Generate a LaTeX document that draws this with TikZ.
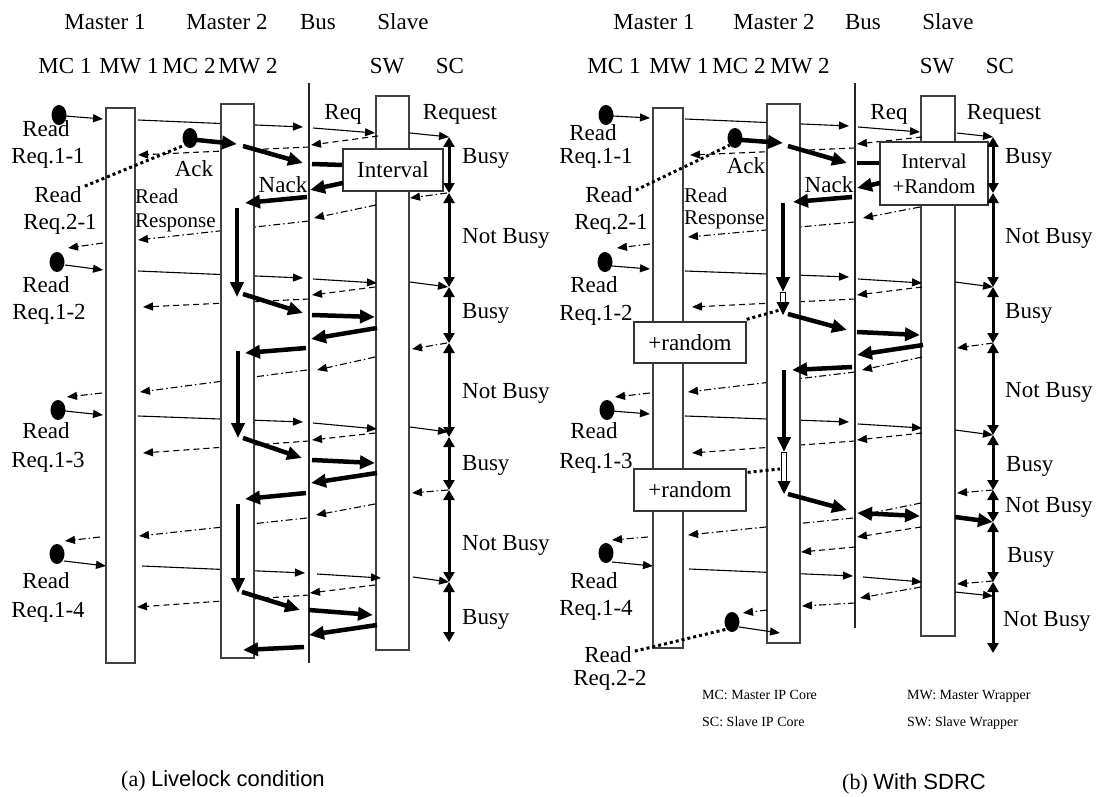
\documentclass[tikz,border=0pt]{standalone}
\usepackage{fontspec}
\setmainfont{Liberation Serif}
\newfontfamily\arialfont{Liberation Sans}
\usetikzlibrary{arrows.meta,shapes.geometric}
\begin{document}
\begin{tikzpicture}[x=1pt,y=-1pt,
  every node/.style={inner sep=0pt},
  txt/.style={anchor=base,font=\fontsize{23}{28}\selectfont},
  stxt/.style={anchor=base west,font=\fontsize{21}{25}\selectfont},
  ltxt/.style={anchor=base west,font=\fontsize{14}{17}\selectfont},
  capt/.style={anchor=base,font=\fontsize{22}{26}\selectfont},
  life/.style={draw=black!75,line width=1.3pt,fill=white},
  busline/.style={line width=1.3pt,draw=black!85},
  tarrow/.style={line width=1.1pt,-{Triangle[length=10pt,width=8pt]}},
  ack/.style={tarrow,dash pattern=on 6pt off 4pt},
  resp/.style={tarrow,dash pattern=on 7pt off 3pt on 1.5pt off 3pt},
  bigarrow/.style={line width=4.5pt,-{Triangle[length=15pt,width=13pt]}},
  bigboth/.style={line width=4.5pt,{Triangle[length=15pt,width=13pt]}-{Triangle[length=15pt,width=13pt]}},
  bigline/.style={line width=4.5pt},
  busy/.style={line width=3pt,{Triangle[length=10pt,width=11pt]}-{Triangle[length=10pt,width=11pt]}},
  dot/.style={ellipse,fill=black,minimum width=15pt,minimum height=20pt},
  dotline/.style={line width=3pt,dash pattern=on 3pt off 3pt},
  box/.style={draw=black!80,line width=1.3pt,fill=white,align=center}
]
\useasboundingbox (0,0) rectangle (1106,797);

% ================= Panel (a) =================
\node[txt] (aM1) at (105,30) {Master 1};
\node[txt] (aM2) at (227,30) {Master 2};
\node[txt] (aBus) at (318,30) {Bus};
\node[txt] (aSl) at (403,30) {Slave};
\node[txt] (aMC1) at (65,74) {MC 1};
\node[txt] (aMW1) at (129,74) {MW 1};
\node[txt] (aMC2) at (189,74) {MC 2};
\node[txt] (aMW2) at (248,74) {MW 2};
\node[txt] (aSW) at (387,74) {SW};
\node[txt] (aSC) at (450,74) {SC};

% through lines (behind lifelines)
\draw[tarrow] (138,120) -- (303,127);
\draw[ack] (309,147) -- (138,155);
\draw[resp] (309,221) -- (138,240);
\draw[tarrow] (138,271) -- (303,278);
\draw[ack] (309,299) -- (143,307);
\draw[resp] (307,370) -- (140,392);
\draw[tarrow] (138,416) -- (303,422);
\draw[ack] (309,441) -- (143,453);
\draw[resp] (307,518) -- (139,536);
\draw[tarrow] (142,566) -- (305,573);
\draw[ack] (309,595) -- (137,607);

% lifelines
\draw[life] (106,108) rectangle (135,663);
\draw[life] (221,104) rectangle (254,658);
\draw[life] (376,96) rectangle (409,650);
\draw[busline] (309,83) -- (309,663);

% dots MC1 / MC2
\node[dot] (ad1) at (59,115) {};
\node[dot] (ad2) at (57,262) {};
\node[dot] (ad3) at (58,410) {};
\node[dot] (ad4) at (57,554) {};
\node[dot] (ae1) at (190,138) {};

% MC1 -> MW1
\draw[tarrow] (65,116) -- (103,119);
\draw[tarrow] (65,265) -- (103,270);
\draw[tarrow] (65,411) -- (103,415);
\draw[tarrow] (64,561) -- (106,566);
% MW1 -> MC1 responses
\draw[resp] (103,243) -- (68,248);
\draw[resp] (102,393) -- (67,397);
\draw[resp] (100,537) -- (65,541);
% bus -> SW
\draw[tarrow] (313,128) -- (375,133);
\draw[tarrow] (313,279) -- (377,283);
\draw[tarrow] (313,423) -- (377,429);
\draw[tarrow] (317,574) -- (381,578);
% SW -> SC
\draw[tarrow] (410,133) -- (449,137);
\draw[tarrow] (410,282) -- (448,287);
\draw[tarrow] (410,427) -- (448,432);
\draw[tarrow] (413,577) -- (449,582);
% SW -> bus ack
\draw[ack] (378,136) -- (311,145);
\draw[ack] (375,287) -- (312,295);
\draw[ack] (375,433) -- (312,440);
\draw[ack] (375,585) -- (310,593);
% SC -> SW response
\draw[resp] (447,193) -- (410,198);
\draw[resp] (447,343) -- (412,349);
\draw[resp] (448,490) -- (412,493);
% SW -> bus response
\draw[resp] (376,205) -- (314,218);
\draw[resp] (375,357) -- (317,370);
\draw[resp] (375,504) -- (316,515);

% Master 2 thick traffic
\draw[bigarrow] (197,140) -- (237,144);
\draw[bigarrow] (243,146) -- (303,163);
\draw[bigline] (312,164) -- (343,165);
\node[box,minimum width=100pt,minimum height=42pt,font=\fontsize{23}{28}\selectfont] (aInt) at (393,170) {Interval};
\draw[bigarrow] (343,183) -- (310,190);
\draw[bigarrow] (307,197) -- (245,203);
\draw[bigarrow] (237,208) -- (237,297);

\draw[bigarrow] (243,294) -- (303,313);
\draw[bigarrow] (312,315) -- (375,317);
\draw[bigarrow] (377,328) -- (311,339);
\draw[bigarrow] (306,348) -- (245,353);
\draw[bigarrow] (238,351) -- (238,438);

\draw[bigarrow] (243,438) -- (302,458);
\draw[bigarrow] (312,460) -- (375,463);
\draw[bigarrow] (377,473) -- (311,483);
\draw[bigarrow] (306,493) -- (245,499);
\draw[bigarrow] (238,504) -- (238,593);

\draw[bigarrow] (242,592) -- (300,610);
\draw[bigarrow] (309,610) -- (373,615);
\draw[bigarrow] (377,625) -- (309,635);
\draw[bigarrow] (304,647) -- (243,650);

% SC busy arrows
\draw[busy] (449,137) -- (449,193);
\draw[busy] (449,193) -- (449,287);
\draw[busy] (449,287) -- (449,343);
\draw[busy] (449,343) -- (449,437);
\draw[busy] (449,437) -- (449,490);
\draw[busy] (449,490) -- (449,582);
\draw[busy] (449,582) -- (449,642);

% labels (a)
\node[txt] (aR11a) at (46,137) {Read};
\node[txt] (aR11b) at (48,164) {Req.1-1};
\node[txt] (aR21a) at (58,202) {Read};
\node[txt] (aR21b) at (60,229) {Req.2-1};
\draw[dotline] (aR21a.east) ++(3,-8) -- (ae1.south west);
\node[txt] (aR12a) at (46,292) {Read};
\node[txt] (aR12b) at (49,319) {Req.1-2};
\node[txt] (aR13a) at (46,438) {Read};
\node[txt] (aR13b) at (48,467) {Req.1-3};
\node[txt] (aR14a) at (46,588) {Read};
\node[txt] (aR14b) at (48,617) {Req.1-4};
\node[txt] (aAck) at (194,177) {Ack};
\node[stxt] (aRR1) at (135,203) {Read};
\node[stxt] (aRR2) at (135,227) {Response};
\node[txt] (aReq) at (343,120) {Req};
\node[txt] (aRequest) at (460,120) {Request};
\node[txt] (aNack) at (283,193) {Nack};
\node[txt,anchor=base west] (aB1) at (462,164) {Busy};
\node[txt,anchor=base west] (aB2) at (462,243) {Not Busy};
\node[txt,anchor=base west] (aB3) at (462,318) {Busy};
\node[txt,anchor=base west] (aB4) at (462,398) {Not Busy};
\node[txt,anchor=base west] (aB5) at (462,470) {Busy};
\node[txt,anchor=base west] (aB6) at (462,550) {Not Busy};
\node[txt,anchor=base west] (aB7) at (462,624) {Busy};
\node[capt] (acap) at (223,786) {(a) {\arialfont Livelock condition}};

% ================= Panel (b) =================
\node[txt] (bM1) at (654,30) {Master 1};
\node[txt] (bM2) at (774,30) {Master 2};
\node[txt] (bBus) at (863,30) {Bus};
\node[txt] (bSl) at (948,30) {Slave};
\node[txt] (bMC1) at (614,74) {MC 1};
\node[txt] (bMW1) at (679,74) {MW 1};
\node[txt] (bMC2) at (739,74) {MC 2};
\node[txt] (bMW2) at (800,74) {MW 2};
\node[txt] (bSW) at (937,74) {SW};
\node[txt] (bSC) at (1000,74) {SC};

% through lines
\draw[tarrow] (685,119) -- (849,126);
\draw[ack] (855,148) -- (690,155);
\draw[resp] (855,222) -- (688,237);
\draw[tarrow] (685,271) -- (849,277);
\draw[ack] (855,299) -- (692,307);
\draw[resp] (855,372) -- (688,392);
\draw[tarrow] (685,416) -- (849,422);
\draw[ack] (855,441) -- (692,453);
\draw[resp] (853,518) -- (688,535);
\draw[tarrow] (689,569) -- (853,576);

% lifelines
\draw[life] (653,108) rectangle (683,648);
\draw[life] (767,104) rectangle (800,643);
\draw[life] (921,96) rectangle (955,636);
\draw[busline] (855,83) -- (855,628);

% dots
\node[dot] (bd1) at (606,115) {};
\node[dot] (bd2) at (605,262) {};
\node[dot] (bd3) at (607,410) {};
\node[dot] (bd4) at (606,553) {};
\node[dot] (be1) at (735,138) {};
\node[dot] (be2) at (732,622) {};

% MC1 -> MW1
\draw[tarrow] (613,116) -- (650,118);
\draw[tarrow] (612,266) -- (650,269);
\draw[tarrow] (612,411) -- (650,414);
\draw[tarrow] (612,562) -- (653,566);
% MW1 -> MC1 responses
\draw[resp] (650,244) -- (617,248);
\draw[resp] (650,393) -- (615,397);
\draw[resp] (648,537) -- (612,540);
% bus -> SW
\draw[tarrow] (858,127) -- (920,132);
\draw[tarrow] (858,279) -- (922,283);
\draw[tarrow] (858,424) -- (922,428);
\draw[tarrow] (863,577) -- (922,582);
% SW -> SC
\draw[tarrow] (957,133) -- (993,137);
\draw[tarrow] (955,282) -- (993,287);
\draw[tarrow] (955,430) -- (993,435);
\draw[tarrow] (955,592) -- (993,596);
% SW -> bus acks
\draw[ack] (922,137) -- (857,144);
\draw[ack] (922,287) -- (857,295);
\draw[ack] (922,433) -- (857,440);
\draw[ack] (921,527) -- (857,537);
\draw[ack] (855,547) -- (801,552);
% SC -> SW responses
\draw[resp] (993,343) -- (957,348);
\draw[resp] (993,490) -- (957,493);
\draw[resp] (993,581) -- (957,584);
% SW -> bus responses
\draw[resp] (920,207) -- (863,218);
\draw[resp] (922,357) -- (862,370);
\draw[resp] (921,503) -- (862,515);
\draw[resp] (921,587) -- (860,598);
\draw[resp] (855,603) -- (802,606);
\draw[resp] (767,610) -- (743,613);
\draw[tarrow] (739,627) -- (780,633);

% Master 2 thick traffic
\draw[bigarrow] (742,140) -- (783,143);
\draw[bigarrow] (788,146) -- (847,163);
\draw[bigline] (857,163) -- (880,163);
\node[box,minimum width=108pt,minimum height=63pt,font=\fontsize{21}{25}\selectfont] (bInt) at (934,173.5) {Interval\\+Random};
\draw[bigarrow] (880,183) -- (857,188);
\draw[bigarrow] (852,197) -- (793,202);
\draw[bigarrow] (783,203) -- (783,292);
\draw[line width=1pt,fill=white] (780.5,292) rectangle (785.5,303);
\fill (776.5,302) -- (789.5,302) -- (783,315) -- cycle;

\draw[bigarrow] (788,314) -- (847,330);
\draw[bigarrow] (857,332) -- (920,335);
\draw[bigarrow] (923,345) -- (857,355);
\draw[bigarrow] (852,367) -- (792,370);
\draw[bigarrow] (784,370) -- (784,452);
\draw[line width=1pt,fill=white] (781.5,452) rectangle (786.5,482);
\fill (777.5,481) -- (790.5,481) -- (784,494) -- cycle;

\draw[bigarrow] (788,494) -- (847,510);
\draw[bigboth] (857,513) -- (920,516);
\draw[bigarrow] (955,517) -- (993,522);

% +random boxes
\node[box,minimum width=112pt,minimum height=41pt,font=\fontsize{23}{28}\selectfont] (bRnd1) at (690,342.5) {+random};
\node[box,minimum width=112pt,minimum height=42pt,font=\fontsize{23}{28}\selectfont] (bRnd2) at (690,490) {+random};
\draw[dotline] (bRnd1.north east) ++(0,-2) -- (780,310);
\draw[dotline] (bRnd2.north east) ++(1,4) -- (780,469);

% SC busy arrows
\draw[busy] (993,137) -- (993,193);
\draw[busy] (993,193) -- (993,287);
\draw[busy] (993,287) -- (993,343);
\draw[busy] (993,343) -- (993,435);
\draw[busy] (993,435) -- (993,490);
\draw[busy] (993,490) -- (993,522);
\draw[busy] (993,522) -- (993,582);
\draw[busy] (993,582) -- (993,653);

% labels (b)
\node[txt] (bR11a) at (593,141) {Read};
\node[txt] (bR11b) at (596,164) {Req.1-1};
\node[txt] (bR21a) at (609,202) {Read};
\node[txt] (bR21b) at (611,229) {Req.2-1};
\draw[dotline] (bR21a.east) ++(3,-4) -- (be1.south west);
\node[txt] (bR12a) at (594,292) {Read};
\node[txt] (bR12b) at (596,320) {Req.1-2};
\node[txt] (bR13a) at (594,438) {Read};
\node[txt] (bR13b) at (596,468) {Req.1-3};
\node[txt] (bR14a) at (594,588) {Read};
\node[txt] (bR14b) at (596,615) {Req.1-4};
\node[txt] (bR22a) at (608,662) {Read};
\node[txt] (bR22b) at (610,685) {Req.2-2};
\draw[dotline] (bR22a.east) ++(3,-3) -- (be2.south west);
\node[txt] (bAck) at (746,173) {Ack};
\node[stxt] (bRR1) at (684,202) {Read};
\node[stxt] (bRR2) at (684,224) {Response};
\node[txt] (bReq) at (889,120) {Req};
\node[txt] (bRequest) at (1004,120) {Request};
\node[txt] (bNack) at (829,193) {Nack};
\node[txt,anchor=base west] (bB1) at (1005,164) {Busy};
\node[txt,anchor=base west] (bB2) at (1005,243) {Not Busy};
\node[txt,anchor=base west] (bB3) at (1005,318) {Busy};
\node[txt,anchor=base west] (bB4) at (1005,397) {Not Busy};
\node[txt,anchor=base west] (bB5) at (1006,471) {Busy};
\node[txt,anchor=base west] (bB6) at (1005,512) {Not Busy};
\node[txt,anchor=base west] (bB7) at (1007,562) {Busy};
\node[txt,anchor=base west] (bB8) at (1003,626) {Not Busy};

% legend
\node[ltxt] (lg1) at (702,699) {MC: Master IP Core};
\node[ltxt] (lg2) at (907,699) {MW: Master Wrapper};
\node[ltxt] (lg3) at (702,726) {SC: Slave IP Core};
\node[ltxt] (lg4) at (907,726) {SW: Slave Wrapper};

\node[capt] (bcap) at (914,789) {(b) {\arialfont With SDRC}};
\end{tikzpicture}
\end{document}
